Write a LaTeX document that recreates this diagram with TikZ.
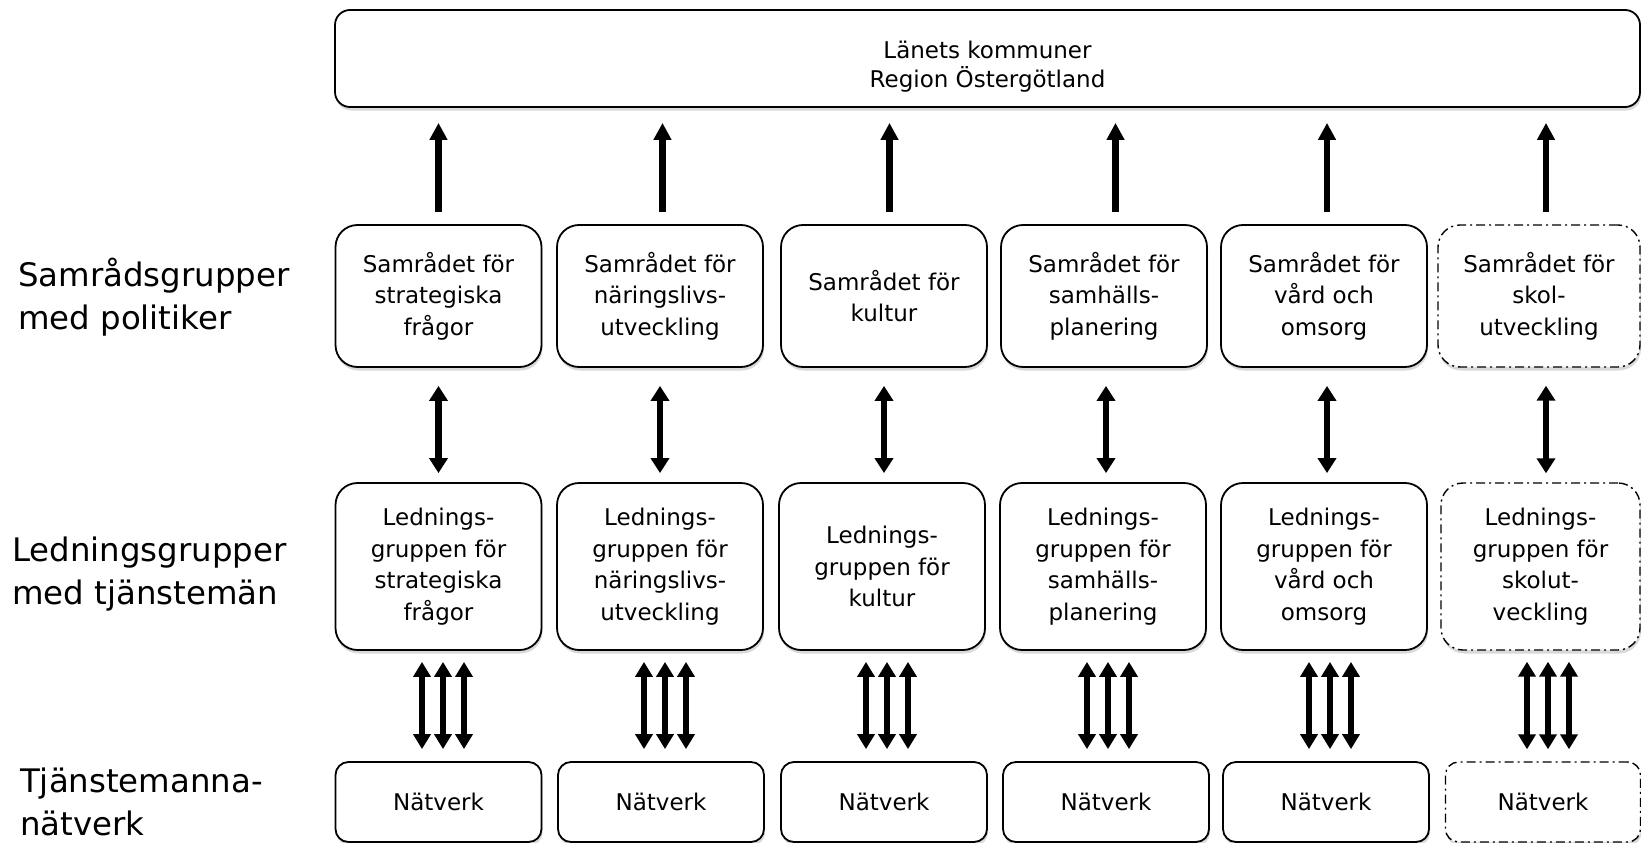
\documentclass[tikz,border=0pt]{standalone}
\usepackage{fontspec}
\setmainfont{DejaVu Sans}
\usetikzlibrary{arrows.meta,shadows}
\tikzset{
  box/.style={draw=black, line width=1.8pt, fill=white, rounded corners=22pt,
    align=center, inner sep=0pt, font=\fontsize{23}{31.7}\selectfont,
    drop shadow={shadow xshift=1pt, shadow yshift=-3.5pt, opacity=0.3}},
  dashbox/.style={box, line width=1.4pt, dash pattern=on 9pt off 4pt on 2pt off 4pt},
  srow/.style={minimum width=206pt, minimum height=142pt},
  lrow/.style={minimum width=206pt, minimum height=167pt},
  nrow/.style={minimum width=206pt, minimum height=80pt, rounded corners=13pt},
  sidelabel/.style={anchor=west, align=left, inner sep=0pt, font=\fontsize{32.4}{43}\selectfont},
  boxtext/.style={align=center, inner sep=0pt, font=\fontsize{23}{29}\selectfont},
  uparr/.style={line width=6.5pt, -{Triangle[width=17pt,length=17pt]}, shorten <=12pt, shorten >=15pt},
  dblarr/.style={line width=6.5pt, {Triangle[width=18pt,length=15pt]}-{Triangle[width=18pt,length=15pt]}, shorten <=18pt, shorten >=9pt},
  triarr/.style={line width=5.5pt, {Triangle[width=17pt,length=15pt]}-{Triangle[width=17pt,length=15pt]}, shorten <=11pt, shorten >=12pt}
}
\begin{document}
\begin{tikzpicture}[x=1pt,y=-1pt]
\useasboundingbox (0,0) rectangle (1641,843);

% top box
\node[box, rounded corners=15pt, minimum width=1305pt, minimum height=97pt] (top) at (987.5,58.5) {};
\node[boxtext] (toptext) at (987.5,67) {Länets kommuner\\Region Östergötland};

% side labels
\node[sidelabel] (lab1) at (18,297) {Samrådsgrupper\\med politiker};
\node[sidelabel] (lab2) at (12,574) {Ledningsgrupper\\med tjänstemän};
\node[sidelabel] (lab3) at (20,802) {Tjänstemanna-\\nätverk};

% Samråd row
\node[box, srow] (s1) at (438.5,296) {Samrådet för\\strategiska\\frågor};
\node[box, srow] (s2) at (660,296) {Samrådet för\\näringslivs-\\utveckling};
\node[box, srow] (s3) at (884,296) {Samrådet för\\kultur};
\node[box, srow] (s4) at (1104,296) {Samrådet för\\samhälls-\\planering};
\node[box, srow] (s5) at (1324,296) {Samrådet för\\vård och\\omsorg};
\node[dashbox, srow, minimum width=202pt] (s6) at (1539,296) {Samrådet för\\skol-\\utveckling};

% Lednings row
\node[box, lrow] (l1) at (438.5,566.5) {Lednings-\\gruppen för\\strategiska\\frågor};
\node[box, lrow] (l2) at (660,566.5) {Lednings-\\gruppen för\\näringslivs-\\utveckling};
\node[box, lrow] (l3) at (882,566.5) {Lednings-\\gruppen för\\kultur};
\node[box, lrow] (l4) at (1103,566.5) {Lednings-\\gruppen för\\samhälls-\\planering};
\node[box, lrow] (l5) at (1324,566.5) {Lednings-\\gruppen för\\vård och\\omsorg};
\node[dashbox, lrow, minimum width=199pt] (l6) at (1540.5,566.5) {Lednings-\\gruppen för\\skolut-\\veckling};

% Nätverk row
\node[box, nrow] (n1) at (438.5,802) {Nätverk};
\node[box, nrow] (n2) at (661,802) {Nätverk};
\node[box, nrow] (n3) at (884,802) {Nätverk};
\node[box, nrow] (n4) at (1106,802) {Nätverk};
\node[box, nrow] (n5) at (1326,802) {Nätverk};
\node[dashbox, nrow, minimum width=195pt] (n6) at (1543,802) {Nätverk};

% up arrows
\foreach \i/\dx in {1/0,2/2.5,3/5.5,4/11.5,5/3,6/7}{
  \draw[uparr] ([xshift=\dx pt]s\i.north) -- ([xshift=\dx pt]s\i.north |- top.south);
}
% double arrows
\foreach \i/\dx in {1/0,2/0,3/0,4/2,5/3,6/7}{
  \draw[dblarr] ([xshift=\dx pt]s\i.south) -- ([xshift=\dx pt]s\i.south |- l\i.north);
}
% triple arrows
\foreach \i/\cx in {1/443,2/665,3/887,4/1108,5/1330,6/1548}{
  \foreach \o in {-21,0,21}{
    \draw[triarr] (\cx+\o,0 |- l\i.south) -- (\cx+\o,0 |- n\i.north);
  }
}
\end{tikzpicture}
\end{document}
